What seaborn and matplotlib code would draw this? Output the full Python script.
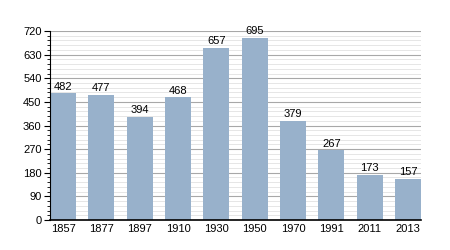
import matplotlib
matplotlib.use("Agg")
import matplotlib.pyplot as plt
import seaborn as sns
import pandas as pd
from matplotlib.ticker import MultipleLocator

years = ["1857", "1877", "1897", "1910", "1930", "1950", "1970", "1991", "2011", "2013"]
population = [482, 477, 394, 468, 657, 695, 379, 267, 173, 157]

df = pd.DataFrame({"year": years, "pop": population})

sns.set_style("white")
plt.rcParams['font.family'] = ['Liberation Sans', 'DejaVu Sans']

fig = plt.figure(figsize=(4.5, 2.5), dpi=100)
ax = fig.add_axes([0.111, 0.12, 0.825, 0.756])

sns.barplot(data=df, x="year", y="pop", color="#98b1cb", saturation=1, width=0.68,
            ax=ax, linewidth=0, edgecolor="none")

ax.set_xlim(-0.34, len(years) - 1 + 0.34)
ax.set_ylim(0, 720)
ax.yaxis.set_major_locator(MultipleLocator(90))
ax.yaxis.set_minor_locator(MultipleLocator(18))
ax.grid(which="major", axis="y", color="#a8a8a8", linewidth=0.8)
ax.grid(which="minor", axis="y", color="#e2e2e2", linewidth=0.6)
ax.set_axisbelow(True)
ax.set_xlabel("")
ax.set_ylabel("")
for s in ["top", "right"]:
    ax.spines[s].set_visible(False)
ax.spines["left"].set_color("black")
ax.spines["bottom"].set_color("black")
ax.spines["bottom"].set_linewidth(1.2)
ax.spines["bottom"].set_zorder(5)
ax.spines["left"].set_zorder(5)
ax.tick_params(axis="y", which="major", length=4, direction="out", left=True,
               labelsize=8, pad=2, colors="black")
ax.tick_params(axis="y", which="minor", length=2, direction="out", left=True, colors="black")
ax.tick_params(axis="x", length=0, labelsize=8, pad=3, labelcolor="black")

for c in ax.containers:
    ax.bar_label(c, labels=[str(v) for v in population], fontsize=8, padding=1, color="black")

fig.savefig("out.png", dpi=100)
